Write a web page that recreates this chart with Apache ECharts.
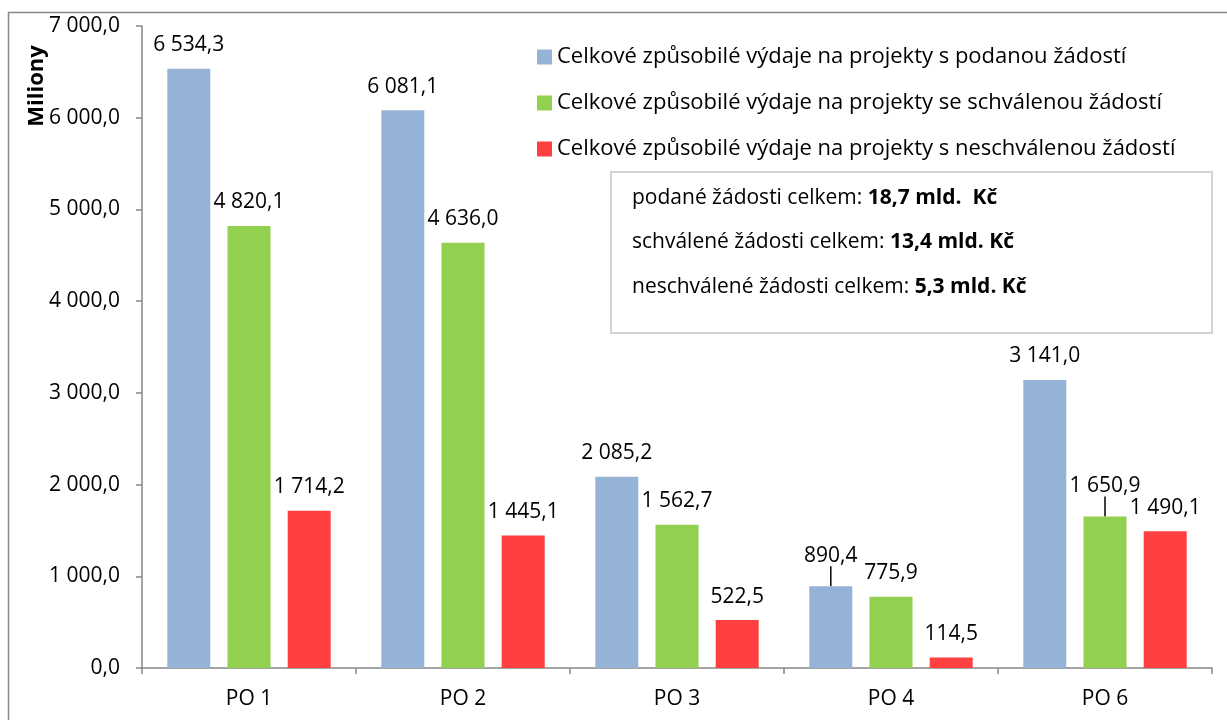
<!DOCTYPE html>
<html>
<head>
<meta charset="utf-8">
<script src="https://cdn.jsdelivr.net/npm/echarts@6/dist/echarts.min.js"></script>
<style>
  html, body { margin: 0; padding: 0; background: #fff; }
  #chart { width: 1227px; height: 720px; }
</style>
</head>
<body>
<div id="chart"></div>
<script>
// kategorie a hodnoty (mil. Kč)
const categories = ['PO 1', 'PO 2', 'PO 3', 'PO 4', 'PO 6']
const podane = [6534.3, 6081.1, 2085.2, 890.4, 3141.0]
const schvalene = [4820.1, 4636.0, 1562.7, 775.9, 1650.9]
const neschvalene = [1714.2, 1445.1, 522.5, 114.5, 1490.1]
const seriesNames = [
  'Celkové způsobilé výdaje na projekty s podanou žádostí',
  'Celkové způsobilé výdaje na projekty se schválenou žádostí',
  'Celkové způsobilé výdaje na projekty s neschválenou žádostí'
]
const colors = ['#95B3D7', '#92D050', '#FF4040']
const totals = [
  ['podané žádosti celkem: ', '18,7 mld.  Kč'],
  ['schválené žádosti celkem: ', '13,4 mld. Kč'],
  ['neschválené žádosti celkem: ', '5,3 mld. Kč']
]
// popisky posunuté nahoru s vodící čarou [seriesIndex, dataIndex]
const raisedLabels = [[0, 3], [1, 4]]

const FONT = 'Open Sans'
const FS = 21

// formát 6 534,3
function fmt(v) {
  const parts = Number(v).toFixed(1).split('.')
  parts[0] = parts[0].replace(/\B(?=(\d{3})+(?!\d))/g, ' ')
  return parts.join(',')
}

function isRaised(s, d) {
  return raisedLabels.some(r => r[0] === s && r[1] === d)
}

const chart = echarts.init(document.getElementById('chart'))

function makeSeries(idx, data) {
  return {
    name: seriesNames[idx],
    type: 'bar',
    data: data.map((v, i) => isRaised(idx, i)
      ? { value: v, labelLine: { show: true, lineStyle: { color: '#000', width: 1.5 } } }
      : v),
    barWidth: 43,
    barGap: '40%',
    itemStyle: { color: colors[idx] },
    label: {
      show: true,
      position: 'top',
      distance: 13,
      color: '#000',
      fontFamily: FONT,
      fontSize: FS,
      formatter: p => fmt(p.value)
    },
    labelLine: { show: false },
    labelLayout: function (params) {
      return isRaised(params.seriesIndex, params.dataIndex) ? { dy: -7 } : {}
    },
    emphasis: { disabled: true }
  }
}

const option = {
  animation: false,
  textStyle: { fontFamily: FONT },
  grid: { left: 142, right: 15, top: 26, bottom: 52 },
  legend: {
    orient: 'vertical',
    left: 532,
    top: 41,
    icon: 'rect',
    itemWidth: 15,
    itemHeight: 15,
    itemGap: 24,
    textStyle: { fontFamily: FONT, fontSize: 22, color: '#000', lineHeight: 20 },
    data: seriesNames
  },
  xAxis: {
    type: 'category',
    data: categories,
    axisLine: { lineStyle: { color: '#868686', width: 1.5 } },
    axisTick: { show: true, length: 6, lineStyle: { color: '#868686', width: 1.5 } },
    axisLabel: { color: '#000', fontFamily: FONT, fontSize: FS, margin: 21 }
  },
  yAxis: {
    type: 'value',
    min: 0,
    max: 7000,
    interval: 1000,
    splitLine: { show: false },
    axisLine: { show: true, lineStyle: { color: '#868686', width: 1.5 } },
    axisTick: { show: true, length: 6, lineStyle: { color: '#868686', width: 1.5 } },
    axisLabel: { color: '#000', fontFamily: FONT, fontSize: FS, margin: 22, formatter: v => fmt(v) }
  },
  graphic: [
    {
      type: 'rect',
      shape: { x: 8.5, y: 12.5, width: 1240, height: 760 },
      style: { fill: 'none', stroke: '#898989', lineWidth: 1.5 },
      silent: true
    },
    {
      type: 'text',
      x: 37,
      y: 86,
      rotation: Math.PI / 2,
      style: {
        text: 'Miliony',
        fontFamily: FONT,
        fontSize: 22,
        fontWeight: 'bold',
        fill: '#000',
        align: 'center',
        verticalAlign: 'middle'
      }
    },
    {
      type: 'rect',
      shape: { x: 611, y: 172, width: 601, height: 161 },
      style: { fill: '#fff', stroke: '#d4d4d4', lineWidth: 2 },
      silent: true
    },
    ...totals.map((t, i) => ({
      type: 'text',
      x: 632,
      y: 198 + i * 44.5,
      style: {
        text: '{n|' + t[0] + '}{b|' + t[1] + '}',
        verticalAlign: 'middle',
        rich: {
          n: { fontFamily: FONT, fontSize: 21, fill: '#000' },
          b: { fontFamily: FONT, fontSize: 21, fontWeight: 'bold', fill: '#000' }
        }
      }
    }))
  ],
  series: [
    makeSeries(0, podane),
    makeSeries(1, schvalene),
    makeSeries(2, neschvalene)
  ]
}

chart.setOption(option)
</script>
</body>
</html>
